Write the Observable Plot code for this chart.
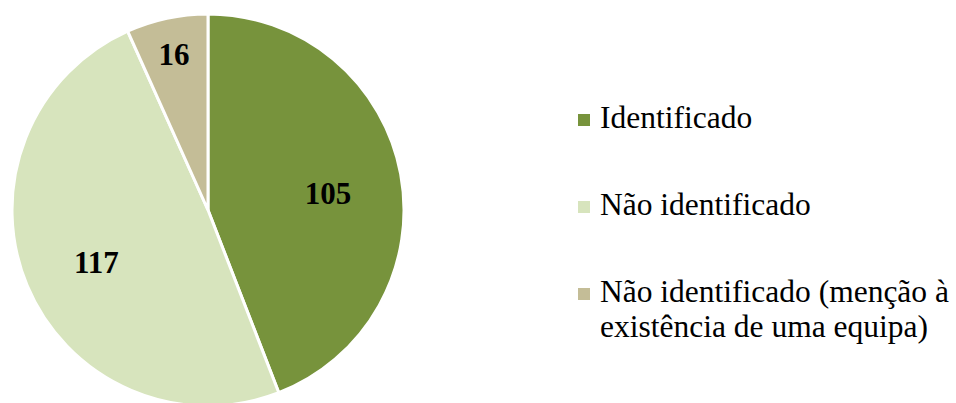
<!DOCTYPE html>
<html>
<head>
<meta charset="utf-8">
<script src="https://cdn.jsdelivr.net/npm/d3@7"></script>
<script src="https://cdn.jsdelivr.net/npm/@observablehq/plot@0.6"></script>
<style>
  html, body { margin: 0; padding: 0; background: #fff; }
  #wrap { position: relative; width: 956px; height: 403px; overflow: hidden; }
</style>
</head>
<body>
<div id="wrap"></div>
<script>
const categories = ["Identificado", "Não identificado", "Não identificado (menção à existência de uma equipa)"];
const legendLines = [["Identificado"], ["Não identificado"], ["Não identificado (menção à", "existência de uma equipa)"]];
const values = [105, 117, 16];
const colors = ["#77933C", "#D7E4BD", "#C4BD97"];

const data = categories.map((c, i) => ({category: c, value: values[i], color: colors[i]}));
const arcs = d3.pie().sort(null).value(d => d.value)(data);

// label positions in unit-radius coordinates (pie of radius 1)
const labels = arcs.map(a => {
  const mid = (a.startAngle + a.endAngle) / 2;
  const f = (a.endAngle - a.startAngle) < 0.6 ? 0.84 : 0.62;
  return {value: a.data.value, x: f * Math.sin(mid), y: f * Math.cos(mid)};
});

const W = 956, H = 403, R = 196, CX = 208, CY = 210;

const pieMark = (index, scales) => {
  const x0 = scales.x(0), y0 = scales.y(0);
  const r = scales.x(1) - scales.x(0);
  const arcGen = d3.arc().innerRadius(0).outerRadius(r);
  const g = d3.create("svg:g").attr("transform", `translate(${x0},${y0})`);
  g.selectAll("path").data(arcs).join("path")
    .attr("d", arcGen)
    .attr("fill", d => d.data.color)
    .attr("stroke", "#fff")
    .attr("stroke-width", 3)
    .attr("stroke-linejoin", "miter");
  return g.node();
};

// legend drawn in the SVG (layout element)
const legendMark = () => {
  const baselines = [128, 215, 302];
  const g = d3.create("svg:g");
  legendLines.forEach((lines, i) => {
    g.append("rect")
      .attr("x", 578).attr("y", baselines[i] - 14)
      .attr("width", 12).attr("height", 12)
      .attr("fill", colors[i]);
    lines.forEach((line, j) => {
      g.append("text")
        .attr("x", 600)
        .attr("y", baselines[i] + j * 35)
        .attr("text-anchor", "start")
        .attr("fill", "#000")
        .attr("style", "font-family: 'Liberation Serif', serif; font-size: 31.5px; font-weight: 400;")
        .text(line);
    });
  });
  return g.node();
};

const chart = Plot.plot({
  width: W,
  height: H,
  margin: 0,
  x: {domain: [-CX / R, (W - CX) / R], axis: null},
  y: {domain: [-(H - CY) / R, CY / R], axis: null},
  style: {background: "#fff"},
  marks: [
    pieMark,
    Plot.text(labels, {
      x: "x", y: "y", text: d => String(d.value), dy: 6,
      fontFamily: "Liberation Serif",
      fontSize: 31, fontWeight: "bold", fill: "#000"
    }),
    legendMark
  ]
});

document.getElementById("wrap").appendChild(chart);
</script>
</body>
</html>
